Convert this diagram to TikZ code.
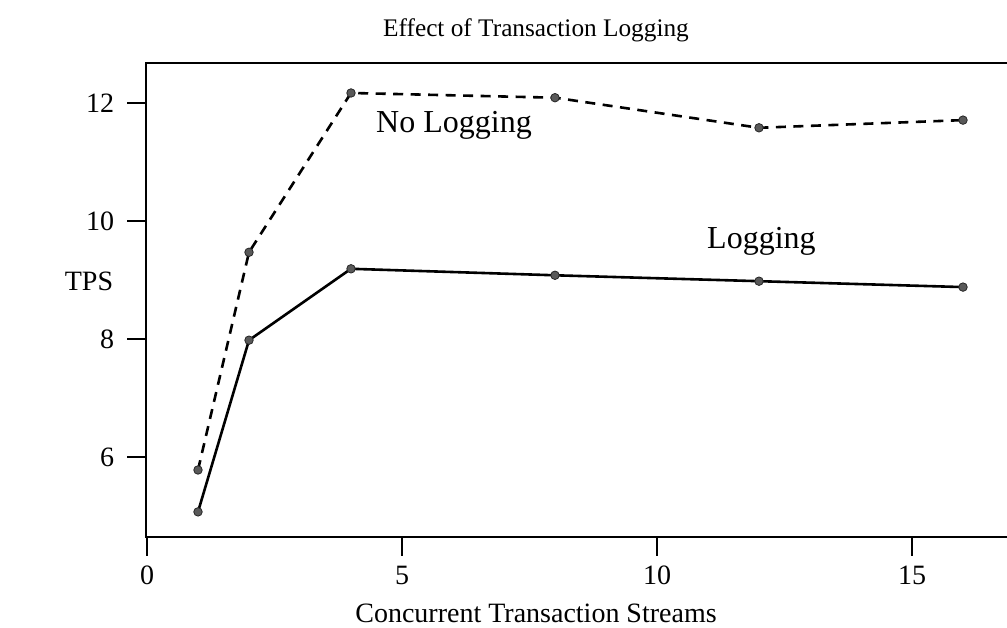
\documentclass[tikz,border=0pt]{standalone}
\usepackage{fontspec}
\setmainfont{Liberation Serif}
\tikzset{
  frame/.style={line width=2.4pt, line cap=rect},
  tickmark/.style={line width=2.2pt},
  curve/.style={line width=2.6pt, line join=round},
  nolog/.style={curve, dash pattern=on 10pt off 7.5pt},
  dot/.style={circle, inner sep=0pt, minimum size=8.5pt, fill=black!65, draw=black!85, line width=0.8pt},
  ticklabel/.style={inner sep=0pt, font=\fontsize{28}{30}\selectfont},
  label/.style={inner sep=0pt, anchor=base west, font=\fontsize{32}{34}\selectfont},
}
\begin{document}
\begin{tikzpicture}[x=1pt, y=1pt]
\useasboundingbox (0,0) rectangle (1007,-627);

% axes box (open on the right)
\draw[frame] (1007,-63) -- (146,-63) -- (146,-537) -- (1007,-537);

% titles
\node[inner sep=0pt, anchor=base, font=\fontsize{25.3}{28}\selectfont] (title) at (536,-36) {Effect of Transaction Logging};
\node[inner sep=0pt, anchor=base, font=\fontsize{28}{30}\selectfont] (xlab) at (536,-622) {Concurrent Transaction Streams};
\node[inner sep=0pt, anchor=base, font=\fontsize{28}{30}\selectfont] (ylab) at (89,-290) {TPS};

% data area: x = streams, y = TPS
\begin{scope}[shift={(147,-811)}, x=51pt, y=59pt]
  % y ticks
  \foreach \v in {6,8,10,12} {
    \draw[tickmark] (-0.39,\v) -- (0,\v);
    \node[ticklabel, anchor=east] (yt\v) at (-0.64,\v) {\v};
  }
  % x ticks
  \foreach \u in {0,5,10,15} {
    \draw[tickmark] (\u,4.644) -- (\u,4.322);
    \node[ticklabel, anchor=north] (xt\u) at (\u,4.15) {\u};
  }

  % No Logging series
  \coordinate (n1) at (1,5.78);
  \coordinate (n2) at (2,9.47);
  \coordinate (n3) at (4,12.17);
  \coordinate (n4) at (8,12.09);
  \coordinate (n5) at (12,11.58);
  \coordinate (n6) at (16,11.71);
  % Logging series
  \coordinate (l1) at (1,5.07);
  \coordinate (l2) at (2,7.98);
  \coordinate (l3) at (4,9.19);
  \coordinate (l4) at (8,9.08);
  \coordinate (l5) at (12,8.98);
  \coordinate (l6) at (16,8.88);
\end{scope}

\draw[nolog] (n1) -- (n2) -- (n3) -- (n4) -- (n5) -- (n6);
\draw[curve] (l1) -- (l2) -- (l3) -- (l4) -- (l5) -- (l6);

\foreach \p in {n1,n2,n3,n4,n5,n6,l1,l2,l3,l4,l5,l6}
  \node[dot] at (\p) {};

% series labels
\node[label] (nolab) at (376,-132) {No Logging};
\node[label] (loglab) at (707,-248) {Logging};
\end{tikzpicture}
\end{document}
